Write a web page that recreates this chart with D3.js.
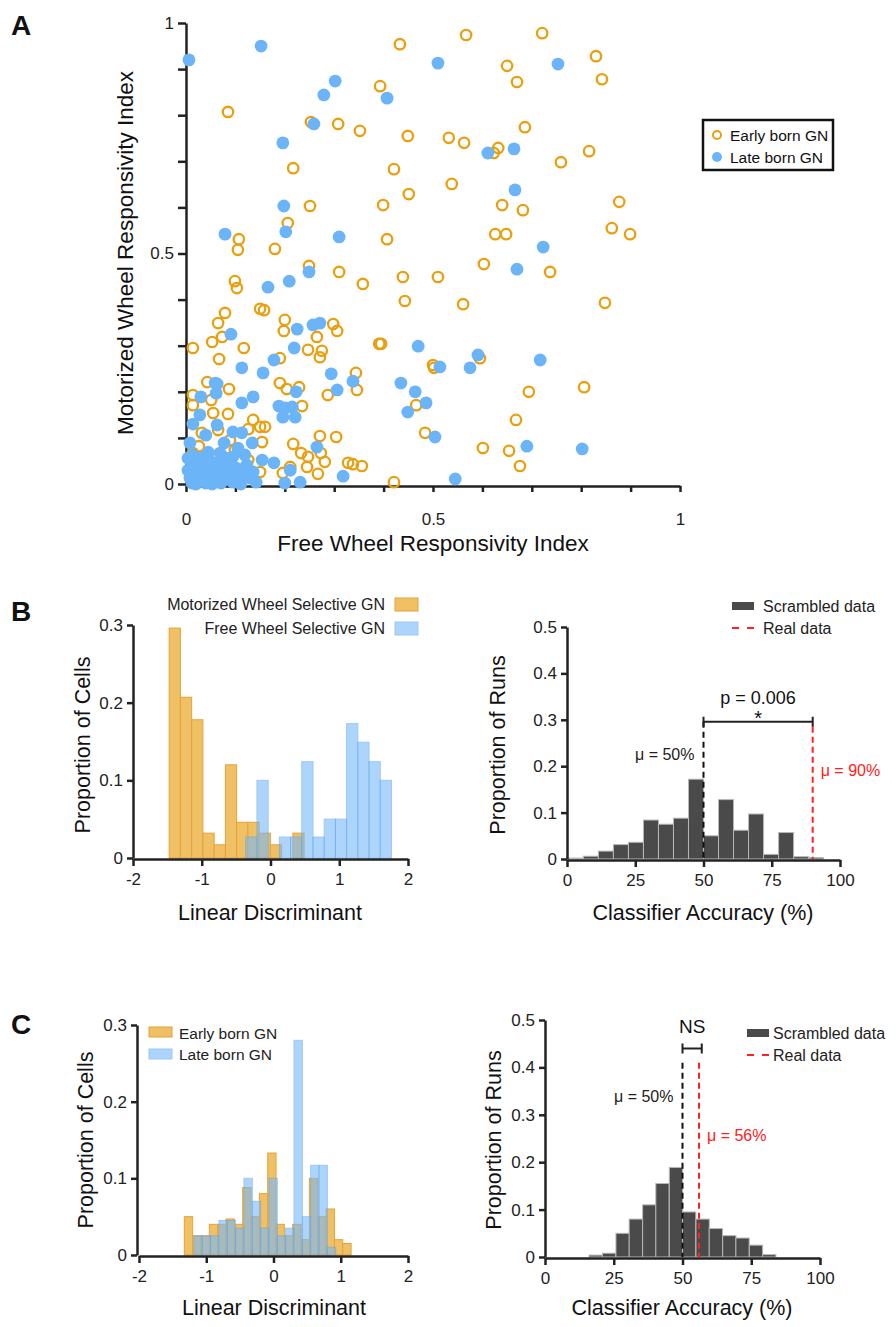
<!DOCTYPE html>
<html>
<head>
<meta charset="utf-8">
<script src="https://cdn.jsdelivr.net/npm/d3@7"></script>
<style>
  body { margin: 0; background: #fff; }
  svg { font-family: "Liberation Sans", Arial, Helvetica, sans-serif; }
  .axis path, .axis line { stroke: #222; stroke-width: 2.5; }
  .axis text { font-size: 17px; fill: #222; }
</style>
</head>
<body>
<svg id="fig" width="896" height="1327"></svg>
<script>
// ---------- data: panel A (responsivity indices) ----------
var earlyFree = [0.433,0.567,0.721,0.830,0.842,0.650,0.670,0.393,0.085,0.253,0.308,0.352,0.449,0.686,0.532,0.563,0.632,0.623,0.759,0.816,
  0.217,0.421,0.451,0.538,0.251,0.399,0.640,0.682,0.877,0.206,0.107,0.105,0.180,0.407,0.626,0.648,0.862,0.899,0.249,0.310,
  0.439,0.603,0.737,0.099,0.510,0.443,0.561,0.848,0.395,0.500,0.502,0.595,0.466,0.694,0.806,0.668,0.484,0.601,0.654,0.676,
  0.421,0.103,0.358,0.150,0.158,0.079,0.065,0.200,0.198,0.298,0.306,0.073,0.053,0.265,0.014,0.117,0.067,0.247,0.275,0.271,
  0.190,0.391,0.344,0.346,0.287,0.190,0.204,0.229,0.043,0.087,0.014,0.014,0.051,0.055,0.085,0.235,0.136,0.126,0.150,0.160,
  0.032,0.271,0.304,0.026,0.154,0.217,0.233,0.247,0.273,0.281,0.328,0.338,0.356,0.245,0.211,0.196,0.267,0.150,0.099,0.089,
  0.014,0.126,0.065,0.020,0.053,0.117];
var earlyMotor = [0.954,0.974,0.978,0.928,0.878,0.907,0.872,0.863,0.807,0.785,0.781,0.766,0.755,0.774,0.751,0.740,0.729,0.718,0.698,0.722,
  0.685,0.683,0.629,0.651,0.603,0.605,0.605,0.594,0.612,0.566,0.531,0.508,0.510,0.531,0.542,0.542,0.555,0.542,0.473,0.460,
  0.449,0.477,0.460,0.440,0.449,0.397,0.390,0.393,0.304,0.258,0.252,0.273,0.171,0.200,0.210,0.139,0.111,0.078,0.072,0.039,
  0.004,0.425,0.434,0.380,0.377,0.371,0.349,0.356,0.332,0.347,0.332,0.319,0.308,0.319,0.295,0.295,0.271,0.291,0.289,0.275,
  0.273,0.304,0.241,0.204,0.193,0.219,0.206,0.210,0.221,0.206,0.193,0.171,0.182,0.154,0.152,0.169,0.139,0.119,0.124,0.124,
  0.111,0.104,0.102,0.082,0.091,0.087,0.067,0.059,0.067,0.048,0.046,0.043,0.039,0.037,0.037,0.024,0.022,0.026,0.074,0.095,
  0.067,0.052,0.117,0.039,0.030,0.017];
var lateFree = [0.006,0.152,0.302,0.279,0.407,0.259,0.196,0.510,0.753,0.198,0.079,0.202,0.310,0.249,0.209,0.611,0.664,0.666,0.723,0.670,
  0.470,0.591,0.514,0.575,0.717,0.435,0.464,0.486,0.449,0.504,0.690,0.802,0.545,0.166,0.091,0.225,0.257,0.271,0.219,0.178,
  0.113,0.156,0.294,0.338,0.306,0.223,0.063,0.061,0.030,0.136,0.113,0.188,0.202,0.215,0.196,0.221,0.028,0.014,0.063,0.040,
  0.095,0.113,0.077,0.134,0.105,0.069,0.008,0.265,0.154,0.178,0.211,0.318,0.231,0.200,0.123,0.130,0.059,0.067,
  0.004,0.008,0.012,0.018,0.022,0.026,0.032,0.036,0.040,0.047,0.051,0.057,0.061,0.067,0.071,0.077,0.081,0.087,0.091,0.095,
  0.101,0.105,0.111,0.117,0.004,0.014,0.028,0.045,0.081,0.136,0.142,0.053,0.020,0.095,0.119];
var lateMotor = [0.920,0.950,0.874,0.844,0.837,0.781,0.740,0.913,0.911,0.603,0.542,0.547,0.536,0.460,0.440,0.718,0.727,0.638,0.514,0.466,
  0.299,0.280,0.254,0.252,0.269,0.219,0.200,0.176,0.156,0.102,0.082,0.076,0.011,0.427,0.325,0.336,0.345,0.349,0.295,0.269,
  0.252,0.241,0.239,0.223,0.204,0.200,0.217,0.197,0.189,0.189,0.176,0.169,0.165,0.167,0.145,0.145,0.150,0.130,0.128,0.106,
  0.113,0.111,0.089,0.089,0.078,0.067,0.089,0.080,0.052,0.046,0.030,0.017,0.004,0.002,0.041,0.013,0.219,0.048,
  0.030,0.013,0.002,0.048,0.022,0.007,0.035,0.015,0.002,0.052,0.026,0.009,0.039,0.017,0.002,0.030,0.011,0.046,0.022,0.004,
  0.035,0.013,0.000,0.028,0.056,0.063,0.056,0.069,0.056,0.026,0.004,0.000,0.000,0.059,0.063];
var scatterTicks = [0,0.1,0.2,0.3,0.4,0.5,0.6,0.7,0.8,0.9,1];
var scatterLabels = [0,0.5,1];
var groupNames = ["Early born GN","Late born GN"];

// ---------- data: panel B ----------
var ldTicks = [-2,-1,0,1,2];
var motorSelStart = [-1.474,-1.310,-1.147,-0.983,-0.820,-0.656,-0.493,-0.329,-0.166,-0.002,0.161,0.325];
var motorSelProp  = [0.296,0.207,0.178,0.032,0.017,0.120,0.046,0.046,0.032,0.017,0,0.032];
var freeSelStart  = [-0.360,-0.197,-0.034,0.129,0.292,0.455,0.618,0.781,0.944,1.107,1.270,1.433,1.596];
var freeSelProp   = [0.027,0.100,0,0.027,0.027,0.124,0.027,0.050,0.050,0.173,0.149,0.124,0.100];
var binWidthB = 0.1635;
var selNames = ["Motorized Wheel Selective GN","Free Wheel Selective GN"];

var accTicks = [0,25,50,75,100];
var runTicks = [0,0.1,0.2,0.3,0.4,0.5];
var cellTicks = [0,0.1,0.2,0.3];
var scrambledStartB = [0.5,6,11.5,17,22.5,28,33.5,39,44.5,50,55.5,61,66.5,72,77.5,83,88.5];
var scrambledPropB  = [0.002,0.006,0.017,0.031,0.036,0.084,0.075,0.088,0.172,0.050,0.128,0.062,0.097,0.010,0.057,0.005,0.003];
var accWidthB = 5.5;
var meanScrambledB = 50, meanRealB = 90, pValueB = "p = 0.006";

// ---------- data: panel C ----------
var earlyStart = [-1.326,-1.202,-1.078,-0.954,-0.830,-0.706,-0.582,-0.458,-0.334,-0.210,-0.086,0.038,0.162,0.286,0.410,0.534,0.658,0.782,0.906,1.030];
var earlyProp  = [0.050,0.025,0.025,0.040,0.040,0.047,0.040,0.088,0.050,0.080,0.133,0.040,0.025,0.040,0.020,0.100,0.050,0.060,0.020,0.015];
var lateStart  = [-1.183,-1.059,-0.935,-0.811,-0.687,-0.563,-0.439,-0.315,-0.191,-0.067,0.057,0.181,0.305,0.429,0.553,0.677,0.801];
var lateProp   = [0.025,0.025,0.025,0.045,0.045,0.035,0.100,0.070,0.035,0.100,0.025,0.035,0.280,0.050,0.117,0.117,0.010];
var binWidthC = 0.124;

var scrambledStartC = [16.0,20.9,25.8,30.6,35.5,40.3,45.2,50.0,54.9,59.7,64.6,69.4,74.3,79.1];
var scrambledPropC  = [0.004,0.008,0.050,0.080,0.110,0.155,0.189,0.095,0.080,0.060,0.045,0.040,0.025,0.005];
var accWidthC = 4.85;
var meanScrambledC = 50, meanRealC = 56;

// ---------- drawing ----------
var svg = d3.select("#fig");
var ORANGE = "#e8a010", BLUE = "#6cb4f8";
var fmt = d3.format("~g");
var dash = "6,4";

function letter(t, x, y) {
  svg.append("text").attr("x", x).attr("y", y).attr("font-size", 28)
    .attr("font-weight", "bold").attr("fill", "#111").text(t);
}
function title(t, x, y, size, rotate) {
  var el = svg.append("text").attr("text-anchor", "middle").attr("font-size", size)
    .attr("fill", "#111").attr("dominant-baseline", "central").text(t);
  if (rotate) el.attr("transform", "translate(" + x + "," + y + ") rotate(-90)");
  else el.attr("x", x).attr("y", y);
}

// Panel A
letter("A", 11, 35);
var ax = d3.scaleLinear().domain([0, 1]).range([186, 680]);
var ay = d3.scaleLinear().domain([0, 1]).range([484, 23]);

svg.append("g").attr("class", "axis").attr("transform", "translate(0,486)")
  .call(d3.axisBottom(ax).tickValues(scatterTicks).tickSize(6).tickSizeOuter(0).tickPadding(21)
    .tickFormat(function (d) { return scatterLabels.indexOf(d) >= 0 ? fmt(d) : ""; }));
svg.append("g").attr("class", "axis").attr("transform", "translate(186,0)")
  .call(d3.axisLeft(ay).tickValues(scatterTicks).tickSize(8).tickSizeOuter(0).tickPadding(4)
    .tickFormat(function (d) { return scatterLabels.indexOf(d) >= 0 ? fmt(d) : ""; }));

svg.append("g").selectAll("circle").data(d3.range(earlyFree.length)).enter().append("circle")
  .attr("cx", function (i) { return ax(earlyFree[i]); })
  .attr("cy", function (i) { return ay(earlyMotor[i]); })
  .attr("r", 5.2).attr("fill", "none").attr("stroke", ORANGE).attr("stroke-width", 2.3);
svg.append("g").selectAll("circle").data(d3.range(lateFree.length)).enter().append("circle")
  .attr("cx", function (i) { return ax(lateFree[i]); })
  .attr("cy", function (i) { return ay(lateMotor[i]); })
  .attr("r", 6.4).attr("fill", BLUE);

title("Free Wheel Responsivity Index", 433, 543, 22.5);
title("Motorized Wheel Responsivity Index", 125, 253, 22.5, true);

var lg = svg.append("g");
lg.append("rect").attr("x", 703).attr("y", 120).attr("width", 130).attr("height", 50)
  .attr("fill", "#fff").attr("stroke", "#111").attr("stroke-width", 2.5);
lg.append("circle").attr("cx", 717).attr("cy", 135).attr("r", 4).attr("fill", "none")
  .attr("stroke", ORANGE).attr("stroke-width", 2);
lg.append("circle").attr("cx", 717).attr("cy", 157).attr("r", 5).attr("fill", BLUE);
lg.selectAll("text").data(groupNames).enter().append("text")
  .attr("x", 730).attr("y", function (d, i) { return 135 + i * 22; })
  .attr("dominant-baseline", "central").attr("font-size", 15.5).attr("fill", "#111").text(function (d) { return d; });

// generic histogram axes
function histAxes(x, y, xt, yt, x0, y0) {
  svg.append("g").attr("class", "axis").attr("transform", "translate(0," + y0 + ")")
    .call(d3.axisBottom(x).tickValues(xt).tickSize(7).tickSizeOuter(0).tickPadding(7)
      .tickFormat(function (d) { return String(d); }));
  svg.append("g").attr("class", "axis").attr("transform", "translate(" + x0 + ",0)")
    .call(d3.axisLeft(y).tickValues(yt).tickSize(6).tickSizeOuter(0).tickPadding(4).tickFormat(fmt));
}
function bars(x, y, starts, props, w, fill, stroke, op) {
  svg.append("g").selectAll("rect").data(d3.range(starts.length)).enter().append("rect")
    .attr("x", function (i) { return x(starts[i]); })
    .attr("width", function (i) { return x(starts[i] + w) - x(starts[i]); })
    .attr("y", function (i) { return y(props[i]); })
    .attr("height", function (i) { return y(0) - y(props[i]); })
    .attr("fill", fill).attr("stroke", stroke).attr("stroke-width", 1).attr("opacity", op);
}

// Panel B left
letter("B", 11, 621);
var bx1 = d3.scaleLinear().domain([-2, 2]).range([133, 408]);
var by1 = d3.scaleLinear().domain([0, 0.3]).range([858, 625]);
bars(bx1, by1, motorSelStart, motorSelProp, binWidthB, "#f0c064", "#e6a23a", 1);
bars(bx1, by1, freeSelStart, freeSelProp, binWidthB, "#78b9fa", "#5aa6f2", 0.6);
histAxes(bx1, by1, ldTicks, cellTicks, 133, 859);
title("Linear Discriminant", 270, 913, 21.5);
title("Proportion of Cells", 83, 745, 21.5, true);
svg.append("g").selectAll("text").data(selNames).enter().append("text")
  .attr("x", 385).attr("y", function (d, i) { return 604 + i * 24; }).attr("text-anchor", "end")
  .attr("dominant-baseline", "central").attr("font-size", 16).attr("fill", "#222").text(function (d) { return d; });
svg.append("rect").attr("x", 395).attr("y", 598).attr("width", 23).attr("height", 13)
  .attr("fill", "#f0c064").attr("stroke", "#e6a23a");
svg.append("rect").attr("x", 395).attr("y", 622).attr("width", 23).attr("height", 13)
  .attr("fill", "#78b9fa").attr("stroke", "#5aa6f2").attr("opacity", 0.6);

// accuracy panel helper
function accPanel(x, y, starts, props, w, meanS, meanR, opts) {
  bars(x, y, starts, props, w, "#4a4a4a", "#b8b8b8", 1);
  histAxes(x, y, accTicks, runTicks, x(0), y(0) + 1);
  svg.append("line").attr("x1", x(meanS)).attr("x2", x(meanS)).attr("y1", y(opts.topS)).attr("y2", y(0))
    .attr("stroke", "#111").attr("stroke-width", 2).attr("stroke-dasharray", dash);
  svg.append("line").attr("x1", x(meanR)).attr("x2", x(meanR)).attr("y1", y(opts.topR)).attr("y2", y(0))
    .attr("stroke", "#ff2020").attr("stroke-width", 2).attr("stroke-dasharray", dash);
  svg.append("text").attr("x", x(meanS) - 9).attr("y", y(opts.labS)).attr("text-anchor", "end")
    .attr("dominant-baseline", "central").attr("font-size", 16).attr("fill", "#222").text("\u03bc = " + meanS + "%");
  svg.append("text").attr("x", x(meanR) + 8).attr("y", y(opts.labR))
    .attr("dominant-baseline", "central").attr("font-size", 16).attr("fill", "#ff2020").text("\u03bc = " + meanR + "%");
  // bracket
  var by = y(opts.bracket), bx0 = x(meanS), bx1 = x(opts.bracketEnd);
  svg.append("path").attr("d", "M" + bx0 + "," + (by - 5) + "V" + (by + 5) + "M" + bx0 + "," + by + "H" + bx1 +
      "M" + bx1 + "," + (by - 5) + "V" + (by + 5))
    .attr("stroke", "#222").attr("stroke-width", 2).attr("fill", "none");
  // legend
  var lx = opts.legX, ly = opts.legY;
  svg.append("rect").attr("x", lx).attr("y", ly - 4).attr("width", 22).attr("height", 8).attr("fill", "#4a4a4a");
  svg.append("line").attr("x1", lx).attr("x2", lx + 22).attr("y1", ly + 22).attr("y2", ly + 22)
    .attr("stroke", "#ff2020").attr("stroke-width", 2).attr("stroke-dasharray", "7,8");
  svg.append("text").attr("x", lx + opts.legGap).attr("y", ly).attr("dominant-baseline", "central")
    .attr("font-size", 16).attr("fill", "#222").text("Scrambled data");
  svg.append("text").attr("x", lx + opts.legGap).attr("y", ly + 22).attr("dominant-baseline", "central")
    .attr("font-size", 16).attr("fill", "#222").text("Real data");
}

// Panel B right
var bx2 = d3.scaleLinear().domain([0, 100]).range([567, 840]);
var by2 = d3.scaleLinear().domain([0, 0.5]).range([859, 627]);
accPanel(bx2, by2, scrambledStartB, scrambledPropB, accWidthB, meanScrambledB, meanRealB,
  { topS: 0.296, topR: 0.285, labS: 0.226, labR: 0.19, bracket: 0.296, bracketEnd: meanRealB,
    legX: 732, legY: 606, legGap: 31 });
svg.append("text").attr("x", bx2(70)).attr("y", by2(0.296) - 18).attr("text-anchor", "middle")
  .attr("font-size", 18).attr("fill", "#111").text(pValueB);
svg.append("text").attr("x", bx2(70)).attr("y", by2(0.296) + 3).attr("text-anchor", "middle")
  .attr("font-size", 20).attr("fill", "#111").text("*");
title("Classifier Accuracy (%)", 703, 913, 21.5);
title("Proportion of Runs", 498, 745, 21.5, true);

// Panel C left
letter("C", 11, 1034);
var cx1 = d3.scaleLinear().domain([-2, 2]).range([139, 408]);
var cy1 = d3.scaleLinear().domain([0, 0.3]).range([1255, 1025]);
bars(cx1, cy1, earlyStart, earlyProp, binWidthC, "#f0c064", "#e6a23a", 1);
bars(cx1, cy1, lateStart, lateProp, binWidthC, "#78b9fa", "#5aa6f2", 0.6);
histAxes(cx1, cy1, ldTicks, cellTicks, 137, 1256);
title("Linear Discriminant", 274, 1308, 21.5);
title("Proportion of Cells", 86, 1140, 21.5, true);
svg.append("rect").attr("x", 149).attr("y", 1027).attr("width", 23).attr("height", 10)
  .attr("fill", "#f0c064").attr("stroke", "#e6a23a");
svg.append("rect").attr("x", 149).attr("y", 1049).attr("width", 23).attr("height", 10)
  .attr("fill", "#78b9fa").attr("stroke", "#5aa6f2").attr("opacity", 0.6);
svg.append("g").selectAll("text").data(groupNames).enter().append("text")
  .attr("x", 179).attr("y", function (d, i) { return 1033 + i * 21; })
  .attr("dominant-baseline", "central").attr("font-size", 15.5).attr("fill", "#222").text(function (d) { return d; });

// Panel C right
var cx2 = d3.scaleLinear().domain([0, 100]).range([545, 820]);
var cy2 = d3.scaleLinear().domain([0, 0.5]).range([1257, 1020]);
accPanel(cx2, cy2, scrambledStartC, scrambledPropC, accWidthC, meanScrambledC, meanRealC,
  { topS: 0.41, topR: 0.41, labS: 0.338, labR: 0.257, bracket: 0.44, bracketEnd: 57,
    legX: 747, legY: 1033, legGap: 26 });
svg.append("text").attr("x", cx2(53.5)).attr("y", cy2(0.486)).attr("text-anchor", "middle")
  .attr("dominant-baseline", "central").attr("font-size", 19).attr("fill", "#111").text("NS");
title("Classifier Accuracy (%)", 682, 1308, 21.5);
title("Proportion of Runs", 494, 1140, 21.5, true);
</script>
</body>
</html>
